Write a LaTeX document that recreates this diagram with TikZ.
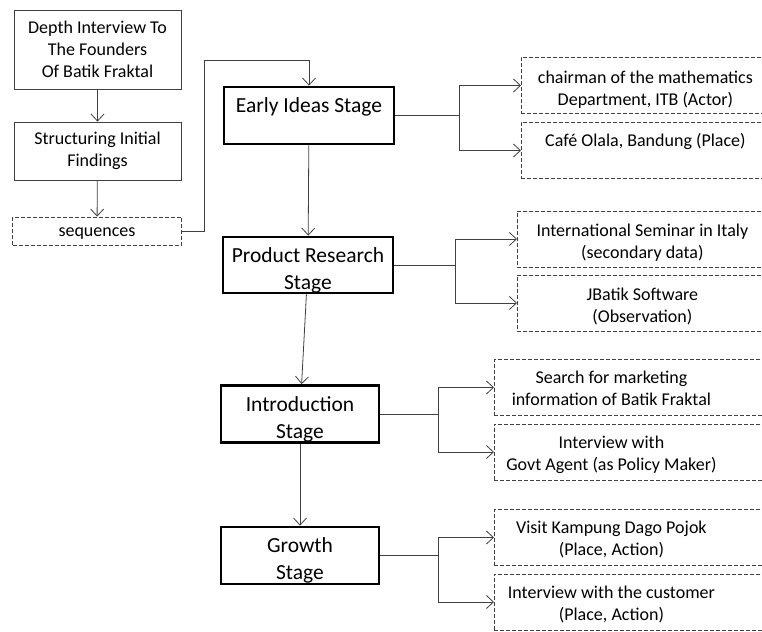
\documentclass[tikz,border=0pt]{standalone}
\usepackage{fontspec}
\setmainfont{Carlito}
\usetikzlibrary{arrows.meta}
\newcommand{\smallfnt}{\fontsize{18}{22}\selectfont}
\newcommand{\stagefnt}{\fontsize{21.5}{27}\selectfont}
\newcommand{\boxtext}[3]{\raisebox{#1}[0pt][0pt]{\begin{tabular}{@{}c@{}}#3\end{tabular}}\hspace*{#2}}
\tikzset{
  leftbox/.style={draw=black!75, line width=0.8pt, align=center, font=\smallfnt, minimum width=167pt, inner sep=2pt},
  stagebox/.style={draw, line width=2.8pt, align=center, font=\stagefnt, minimum height=57pt, inner sep=2pt},
  sidebox/.style={draw=black!75, dash pattern=on 4pt off 2pt, line width=0.8pt, align=center, font=\smallfnt, anchor=west, minimum height=56pt, inner sep=2pt},
  link/.style={draw=black!75, line width=0.8pt, -{Straight Barb[length=7pt,width=13pt]}},
}
\begin{document}
\begin{tikzpicture}[x=1pt,y=-1pt]
			\useasboundingbox (0,0) rectangle (762,631);
			\node[leftbox, minimum height=79pt] (depth) at (97.5,49.5) {Depth Interview To\\ The Founders\\ Of Batik Fraktal};
			\node[leftbox, minimum height=58pt] (struct) at (97.5,151) {Structuring Initial\\ Findings};
			\node[leftbox, dash pattern=on 4pt off 2pt, minimum width=169pt, minimum height=28pt] (seq) at (97,231) {\raisebox{-5pt}[0pt][0pt]{sequences}};
			\node[stagebox, minimum width=170pt] (early) at (309,115.5) {\boxtext{3pt}{0pt}{Early Ideas Stage}};
			\node[stagebox, minimum width=170pt, minimum height=56pt] (prod) at (308,265) {\boxtext{-11pt}{0pt}{Product Research\\ Stage}};
			\node[stagebox, minimum width=158pt] (intro) at (300,414) {\boxtext{-11pt}{0pt}{Introduction\\ Stage}};
			\node[stagebox, minimum width=158pt] (growth) at (300,555.5) {\boxtext{-10pt}{0pt}{Growth\\ Stage}};
			\node[sidebox, minimum width=248pt] (chair) at (521,85.5) {\boxtext{-9pt}{0pt}{chairman of the mathematics\\ Department, ITB (Actor)}};
			\node[sidebox, minimum width=248pt] (cafe) at (521,150.5) {\boxtext{4pt}{0pt}{Café Olala, Bandung (Place)}};
			\node[sidebox, minimum width=250pt] (seminar) at (517,239) {\boxtext{-8.5pt}{0pt}{International Seminar in Italy\\ (secondary data)}};
			\node[sidebox, minimum width=250pt] (jbatik) at (517,303) {\boxtext{-8.5pt}{0pt}{JBatik Software\\ (Observation)}};
			\node[sidebox, minimum width=276pt] (search) at (494,387.5) {\boxtext{-6.5pt}{42pt}{Search for marketing\\ information of Batik Fraktal}};
			\node[sidebox, minimum width=276pt] (govt) at (494,452) {\boxtext{-7.5pt}{42pt}{Interview with\\ Govt Agent (as Policy Maker)}};
			\node[sidebox, minimum width=276pt] (visit) at (494,537.5) {\boxtext{-6.5pt}{42pt}{Visit Kampung Dago Pojok\\ (Place, Action)}};
			\node[sidebox, minimum width=276pt] (cust) at (494,602) {\boxtext{-7.5pt}{42pt}{Interview with the customer\\ (Place, Action)}};
			\coordinate (top) at (0,60);
			\draw[link] (depth) -- (struct);
			\draw[link] (struct) -- (seq);
			\draw[link] (seq.east) -- ++(22,0) |- (early.north |- top) -- (early.north);
			\draw[link] (early) -- (prod);
			\draw[link] (prod) -- (intro);
			\draw[link] (intro) -- (growth);
			\draw[link] (early.east) -- ++(64,0) coordinate (e1) |- (chair.west);
			\draw[link] (e1) |- (cafe.west);
			\draw[link] (prod.east) -- ++(61,0) coordinate (p1) |- (seminar.west);
			\draw[link] (p1) |- (jbatik.west);
			\draw[link] (intro.east) -- ++(58,0) coordinate (i1) |- (search.west);
			\draw[link] (i1) |- (govt.west);
			\draw[link] (growth.east) -- ++(58,0) coordinate (g1) |- (visit.west);
			\draw[link] (g1) |- (cust.west);
\end{tikzpicture}
\end{document}
